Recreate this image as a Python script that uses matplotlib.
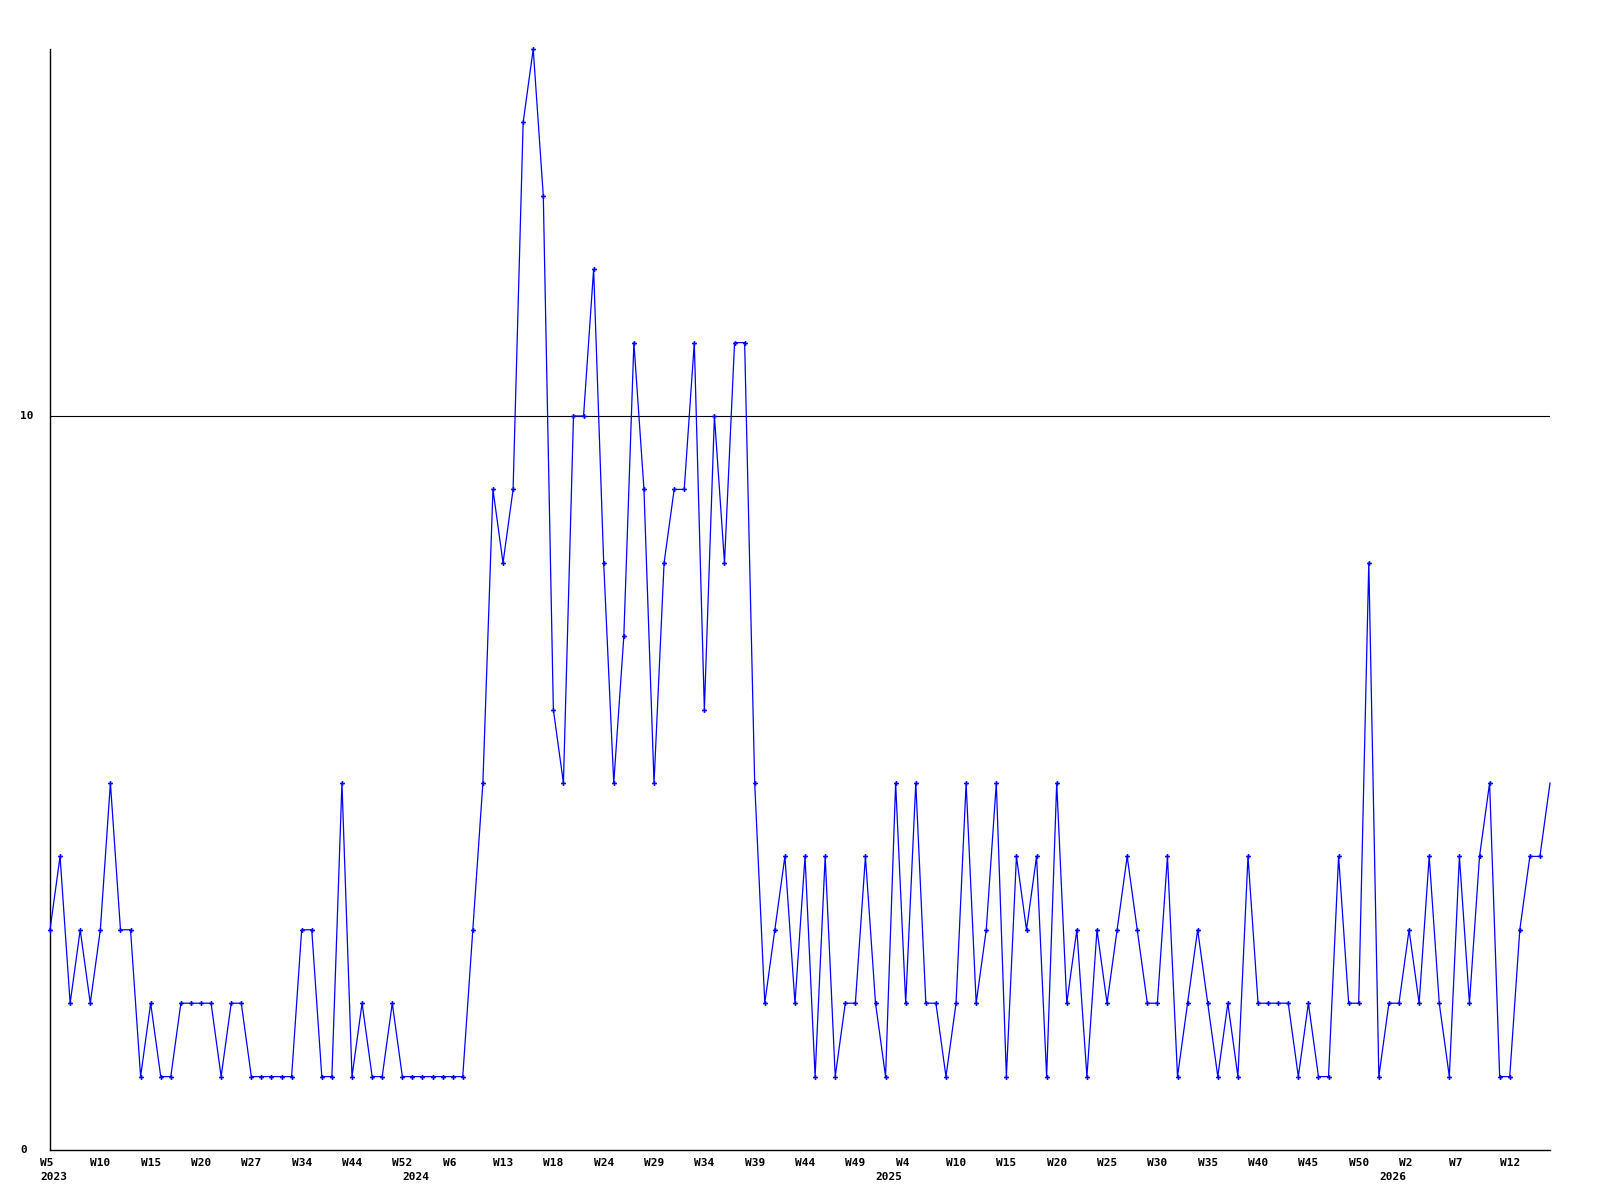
import matplotlib
matplotlib.use("Agg")
import matplotlib.pyplot as plt
from matplotlib.transforms import ScaledTranslation, blended_transform_factory

# weekly counts, one value per week that had data
values = [
    3, 4, 2, 3, 2, 3, 5, 3, 3, 1,
    2, 1, 1, 2, 2, 2, 2, 1, 2, 2,
    1, 1, 1, 1, 1, 3, 3, 1, 1, 5,
    1, 2, 1, 1, 2, 1, 1, 1, 1, 1,
    1, 1, 3, 5, 9, 8, 9, 14, 15, 13,
    6, 5, 10, 10, 12, 8, 5, 7, 11, 9,
    5, 8, 9, 9, 11, 6, 10, 8, 11, 11,
    5, 2, 3, 4, 2, 4, 1, 4, 1, 2,
    2, 4, 2, 1, 5, 2, 5, 2, 2, 1,
    2, 5, 2, 3, 5, 1, 4, 3, 4, 1,
    5, 2, 3, 1, 3, 2, 3, 4, 3, 2,
    2, 4, 1, 2, 3, 2, 1, 2, 1, 4,
    2, 2, 2, 2, 1, 2, 1, 1, 4, 2,
    2, 8, 1, 2, 2, 3, 2, 4, 2, 1,
    4, 2, 4, 5, 1, 1, 3, 4, 4, 5,
]

# every 5th point gets a week label
week_labels = [
    "W5", "W10", "W15", "W20", "W27", "W34", "W44", "W52", "W6", "W13",
    "W18", "W24", "W29", "W34", "W39", "W44", "W49", "W4", "W10", "W15",
    "W20", "W25", "W30", "W35", "W40", "W45", "W50", "W2", "W7", "W12",
]
year_labels = ["2023", "2024", "2025", "2026"]
year_starts = [0, 36, 83, 133]
y_labels = [0, 10]

W, H, DPI = 1600, 1200, 100
fig = plt.figure(figsize=(W / DPI, H / DPI), dpi=DPI)
ax = fig.add_axes([50 / W, 1 - 1150 / H, 1500 / W, 1101 / H])

x = list(range(len(values)))
ax.axhline(10, color="black", lw=0.8, zorder=1)
# the last (current) week is drawn without a marker
ax.plot(x, values, color="#0000ff", lw=0.9, marker="P", markersize=3.5,
        markeredgewidth=0, markevery=list(range(len(values) - 1)),
        clip_on=False, zorder=3)

ax.set_xlim(0, len(values) - 1)
ax.set_ylim(0, 15)
for side in ("top", "right"):
    ax.spines[side].set_visible(False)
for side in ("left", "bottom"):
    ax.spines[side].set_linewidth(1.0)
ax.set_xticks([])
ax.set_yticks([])

font = dict(family="DejaVu Sans Mono", fontweight="bold", fontsize=8)

xtrans = ax.get_xaxis_transform()
for i, lab in zip(range(0, len(values), 5), week_labels):
    t = xtrans + ScaledTranslation(-10 / DPI, -13 / DPI, fig.dpi_scale_trans)
    ax.text(i, 0, lab, transform=t, ha="left", va="center", **font)
for i, lab in zip(year_starts, year_labels):
    t = xtrans + ScaledTranslation(-10 / DPI, -27 / DPI, fig.dpi_scale_trans)
    ax.text(i, 0, lab, transform=t, ha="left", va="center", **font)

ytrans = blended_transform_factory(ax.transAxes, ax.transData)
for v in y_labels:
    t = ytrans + ScaledTranslation(-30 / DPI, 0, fig.dpi_scale_trans)
    ax.text(0, v, str(v), transform=t, ha="left", va="center", **font)

fig.savefig("out.png", dpi=DPI)
